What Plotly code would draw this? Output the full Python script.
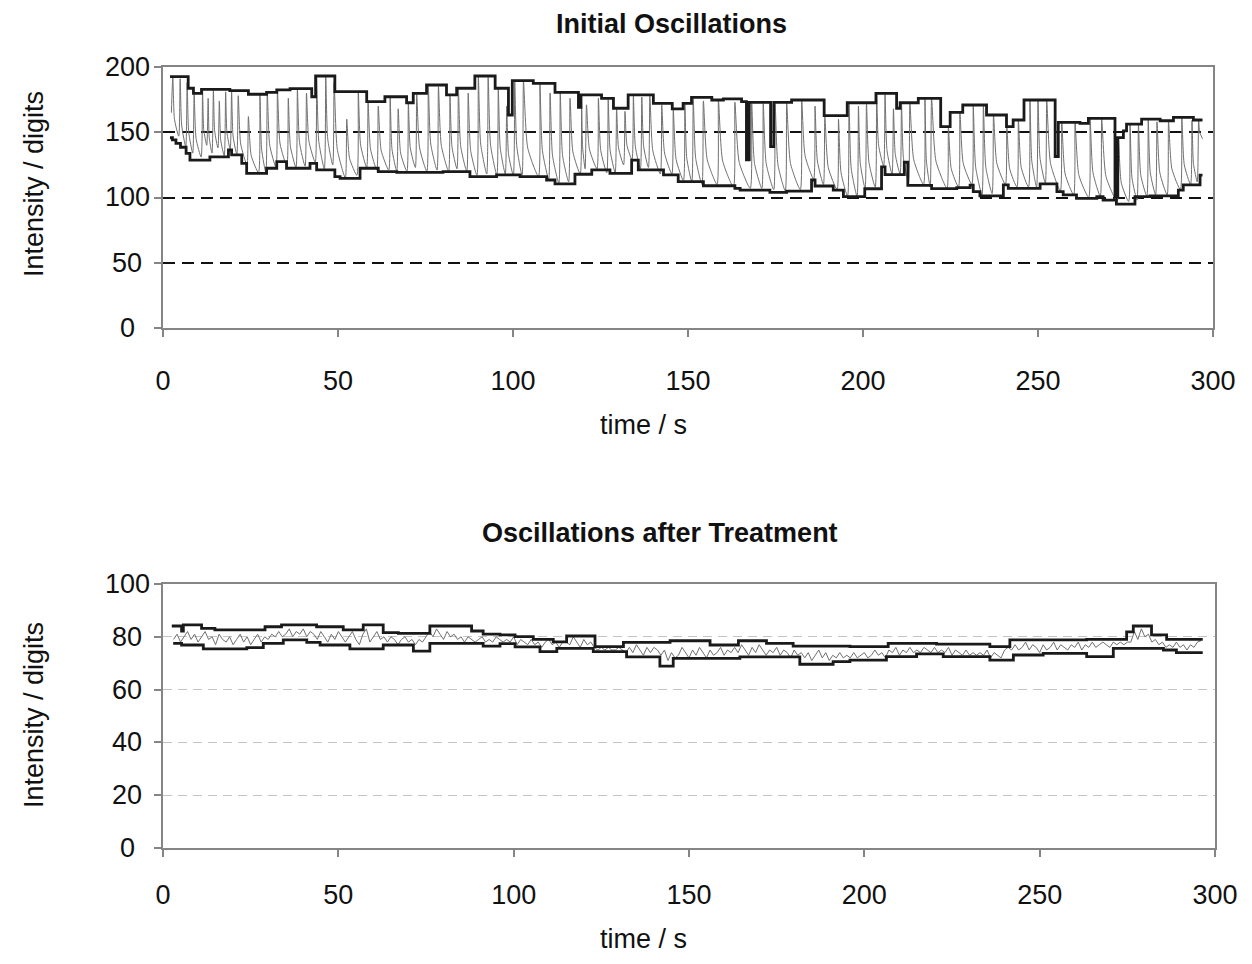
import plotly.graph_objects as go

# ---------------- Top chart: Initial Oscillations ----------------
# upper envelope (step start time, value)
top_upper_t = [2.0, 7.2, 8.7, 11.0, 19.1, 24.4, 29.6, 32.5, 36.3, 42.5, 43.6, 49.1, 58.2, 63.4, 69.6,
               71.5, 75.3, 81.0, 83.9, 89.1, 94.9, 98.7, 99.8, 105.8, 112.0, 112.8, 118.7, 119.4, 125.3,
               128.7, 132.9, 140.1, 145.5, 148.6, 151.0, 156.8, 160.1, 165.3, 166.7, 167.5, 173.6, 174.5,
               179.6, 188.9, 195.5, 203.7, 209.6, 210.6, 215.8, 222.2, 224.9, 228.5, 235.3, 241.0, 242.9,
               246.0, 254.9, 255.8, 262.0, 264.4, 272.0, 272.8, 274.4, 275.3, 279.6, 284.9, 288.7, 294.4, 297.0]
top_upper_v = [192.6, 183.7, 179.8, 182.9, 181.9, 179.1, 180.6, 182.4, 183.4, 177.2, 193.1, 181.1, 173.4, 177.2, 172.6,
               179.8, 186.2, 178.6, 183.7, 193.1, 183.7, 163.2, 189.5, 187.5, 180.6, 180.6, 169.0, 178.6, 176.0,
               168.4, 178.6, 172.2, 167.9, 172.2, 176.8, 174.7, 175.5, 173.4, 128.8, 172.9, 139.0, 172.9,
               174.7, 162.7, 172.6, 179.8, 168.4, 172.6, 176.0, 154.3, 165.2, 170.9, 163.2, 154.3, 159.4,
               174.7, 131.4, 157.6, 156.8, 160.7, 100.6, 145.9, 151.0, 156.2, 160.0, 158.8, 161.4, 159.4, 159.4]

# lower envelope (step start time, value)
top_lower_t = [2.0, 2.7, 3.7, 5.0, 6.6, 7.7, 13.4, 18.7, 19.6, 22.5, 23.9, 29.6, 32.5, 35.3, 42.0, 43.9,
               49.1, 50.6, 56.3, 61.5, 66.8, 80.0, 87.7, 95.3, 102.0, 109.6, 112.0, 117.7, 122.5, 127.7,
               133.9, 135.8, 143.0, 147.2, 154.4, 163.4, 164.9, 173.4, 178.2, 185.3, 186.3, 191.5, 194.4,
               200.5, 205.3, 206.3, 211.8, 212.8, 219.6, 226.8, 230.6, 231.5, 233.4, 240.1, 241.5, 250.6,
               255.4, 257.2, 261.0, 266.8, 268.6, 272.4, 277.7, 282.0, 290.1, 291.5, 296.3, 297.0]
top_lower_v = [145.8, 144.1, 141.5, 138.5, 133.8, 128.7, 131.2, 136.4, 132.6, 126.2, 118.5, 122.4, 127.5, 122.4, 126.2, 121.1,
               116.0, 114.7, 122.4, 119.8, 119.3, 119.8, 116.0, 117.3, 116.0, 113.4, 110.4, 117.8, 121.1, 118.5,
               128.7, 121.1, 117.3, 112.1, 109.0, 107.0, 105.7, 103.9, 104.9, 113.4, 108.8, 105.7, 100.6,
               106.7, 123.5, 117.5, 127.0, 109.3, 106.8, 107.5, 109.5, 104.5, 101.3, 109.7, 107.0, 110.5,
               104.5, 102.0, 99.4, 100.6, 98.0, 95.0, 100.6, 101.3, 105.7, 109.7, 117.2, 117.2]

# oscillating signal: peak times, peak values, value partway down the decay, trough reached after each peak
osc_start_t, osc_start_v = 2.4, 165.0
osc_end_t = 297.0
osc_peak_t = [2.8, 4.9, 6.9, 8.9, 11.3, 12.9, 14.4, 16.1, 17.9, 19.6, 21.5, 24.4, 27.7, 29.8, 32.7, 35.8, 38.4,
              41.0, 43.9, 46.5, 48.9, 52.5, 55.8, 58.6, 61.5, 64.9, 67.2, 70.1, 72.5, 75.8, 78.7, 82.0, 84.4,
              87.2, 90.1, 92.9, 95.8, 98.2, 100.5, 103.0, 107.7, 110.6, 113.5, 116.3, 119.6, 121.0, 124.4,
              127.2, 129.6, 132.0, 134.4, 136.8, 139.1, 142.5, 145.8, 149.1, 151.5, 154.4, 158.7, 163.4,
              168.2, 171.5, 174.9, 178.2, 182.5, 186.3, 189.1, 193.0, 196.0, 198.7, 201.0, 203.9, 206.3,
              208.7, 211.0, 213.4, 217.7, 219.6, 224.4, 227.7, 231.5, 234.4, 237.3, 241.1, 244.4, 247.7,
              250.0, 252.5, 256.8, 260.6, 264.9, 268.2, 273.0, 276.3, 278.7, 281.5, 284.0, 287.3, 291.1,
              294.0, 295.9]
osc_peak_v = [192, 191, 188, 179, 182, 176, 182, 174, 181, 181, 178, 162, 179, 180, 182, 176, 183,
              180, 193, 193, 188, 160, 181, 173, 170, 177, 168, 172, 179, 186, 185, 178, 183,
              180, 193, 192, 183, 170, 189, 189, 187, 180, 180, 176, 178, 171, 176,
              175, 168, 166, 178, 177, 178, 171, 167, 172, 176, 174, 174.5, 173,
              172, 172, 172, 172.5, 174, 170, 162, 160, 172, 170, 172, 179, 179,
              168, 172, 172, 176, 176, 154, 165, 170.5, 170, 163, 154, 159, 174.5,
              174, 174, 157, 157, 160, 160, 145, 156, 156, 159.5, 158, 158, 161,
              159, 159]
osc_knee_v = [160, 155, 150, 145, 152, 146, 151, 144, 150, 147, 141, 132, 137, 140, 141, 139, 142,
              143, 143, 145, 137, 130, 140, 137, 136, 137, 134, 138, 138, 141, 140, 139, 139,
              136, 141, 140, 138, 133, 139, 138, 136, 132, 132, 135, 139, 137, 136,
              136, 138, 140, 139, 139, 136, 134, 129, 130, 130, 129, 128, 127,
              126, 126, 125, 126, 132, 128, 123, 119, 122, 126, 127, 140, 136,
              133, 130, 129, 128, 128, 122, 126, 123, 123, 126, 122, 123, 128,
              130, 126, 118, 117, 119, 116, 111, 115, 117, 119, 119, 122, 125,
              126, 150]
osc_trough_v = [147, 139, 134, 131, 140, 134, 138, 132, 137, 133, 125, 119, 119, 123, 124, 123, 124,
                127, 122, 125, 115, 117, 123, 121, 121, 120, 120, 123, 120, 121, 120, 122, 120,
                117, 118, 117, 118, 117, 117, 116, 114, 111, 112, 118, 122, 122, 119,
                119, 125, 129, 122, 123, 118, 118, 113, 112, 110, 110, 108, 107,
                107, 106, 105, 106, 114, 110, 106, 101, 101, 107, 108, 124, 118,
                118, 112, 110, 108, 107, 108, 110, 102, 103, 110, 108, 108, 108,
                111, 105, 102, 100, 101, 97, 97, 98, 101, 102, 102, 106, 110,
                112, 145]
RISE = 0.4        # duration of the steep rise before each peak (s)
KNEE_FRAC = 0.28  # where in each decay the knee value sits

# ---------------- Bottom chart: Oscillations after Treatment ----------------
bot_upper_t = [2.5, 5.3, 5.8, 11.0, 14.8, 29.1, 33.8, 43.8, 51.4, 57.1, 62.8, 67.1, 76.1, 88.0, 91.3,
               96.1, 100.4, 105.6, 111.3, 115.1, 123.2, 131.3, 144.6, 156.0, 164.1, 172.1, 179.7, 195.9,
               206.8, 220.6, 235.8, 241.5, 263.4, 274.8, 276.7, 281.9, 286.2, 296.5]
bot_upper_v = [84.1, 82.2, 84.5, 83.2, 82.6, 83.8, 84.5, 83.8, 82.6, 84.5, 81.6, 81.3, 84.1, 82.2, 81.0,
               80.7, 80.1, 79.0, 78.1, 80.3, 76.3, 77.9, 78.5, 76.9, 78.5, 77.5, 76.5, 76.3,
               77.5, 77.2, 76.3, 78.8, 79.0, 81.9, 84.1, 80.7, 79.0, 79.0]
bot_lower_t = [2.9, 5.3, 11.5, 23.9, 28.6, 34.3, 41.0, 44.8, 53.3, 62.8, 71.4, 76.1, 91.3, 96.1, 100.4,
               107.5, 112.3, 122.7, 132.2, 141.7, 145.5, 164.5, 181.6, 191.1, 195.9, 206.3, 214.9, 222.5,
               235.8, 242.5, 251.0, 263.4, 271.0, 285.3, 289.0, 296.5]
bot_lower_v = [77.5, 76.9, 75.4, 75.9, 77.5, 78.8, 77.9, 76.9, 75.4, 76.9, 74.6, 77.5, 76.5, 77.4, 76.2,
               74.4, 75.6, 74.4, 72.4, 68.9, 71.8, 72.4, 69.6, 70.6, 71.2, 72.5, 73.5, 72.5,
               71.2, 73.1, 73.7, 72.5, 75.6, 75.0, 74.0, 74.0]
bot_signal_t0 = 3
bot_signal = [79, 81, 78, 80, 82, 79, 81, 78, 80, 82,
              79, 80, 77, 81, 79, 78, 80, 77, 79, 81,
              78, 80, 77, 79, 81, 78, 80, 79, 81, 80,
              82, 80, 81, 83, 80, 82, 81, 83, 80, 82,
              81, 79, 82, 80, 78, 81, 79, 82, 80, 78,
              80, 82, 79, 77, 81, 83, 78, 80, 82, 79,
              80, 78, 80, 79, 77, 79, 80, 78, 79, 77,
              79, 78, 80, 82, 80, 83, 81, 79, 82, 80,
              81, 79, 80, 78, 80, 79, 78, 79, 80, 78,
              79, 78, 80, 79, 78, 79, 78, 80, 77, 79,
              78, 77, 79, 77, 78, 76, 78, 79, 77, 78,
              76, 78, 78, 77, 80, 78, 76, 79, 77, 78,
              76, 75, 76, 75, 76, 75, 75, 76, 75, 74,
              76, 74, 77, 75, 73, 76, 74, 76, 75, 73,
              75, 71, 74, 72, 73, 76, 74, 72, 75, 73,
              76, 74, 72, 75, 73, 74, 76, 73, 75, 74,
              76, 74, 77, 75, 73, 76, 74, 77, 75, 73,
              75, 74, 76, 73, 75, 74, 72, 75, 73, 74,
              72, 74, 71, 73, 75, 72, 74, 71, 73, 72,
              74, 72, 73, 72, 74, 72, 73, 74, 72, 73,
              75, 73, 74, 72, 75, 74, 76, 73, 75, 74,
              76, 74, 75, 74, 76, 75, 74, 76, 74, 75,
              74, 76, 73, 75, 74, 73, 75, 73, 74, 73,
              74, 73, 75, 72, 74, 73, 72, 75, 76, 75,
              77, 75, 76, 78, 75, 77, 76, 74, 77, 75,
              76, 78, 75, 77, 76, 75, 77, 76, 78, 75,
              77, 76, 78, 76, 77, 78, 77, 76, 78, 77,
              78, 77, 78, 78, 82, 79, 83, 80, 81, 78,
              79, 77, 78, 76, 77, 76, 78, 76, 77, 75,
              77, 76, 78, 78.5]

x_ticks = [0, 50, 100, 150, 200, 250, 300]
top_y_ticks = [0, 50, 100, 150, 200]
bot_y_ticks = [0, 20, 40, 60, 80, 100]

# ---------------- build ----------------
osc_x = [osc_start_t]
osc_y = [osc_start_v]
n = len(osc_peak_t)
for i in range(n):
    t = osc_peak_t[i]
    nxt = osc_peak_t[i + 1] - RISE if i + 1 < n else osc_end_t
    osc_x += [t, t + KNEE_FRAC * (nxt - t), nxt]
    osc_y += [osc_peak_v[i], osc_knee_v[i], osc_trough_v[i]]

sig_t = [bot_signal_t0 + i for i in range(len(bot_signal))]

THIN = dict(color="#707070", width=1)
THICK = dict(color="#1a1a1a", width=2.8)
FONT = "Liberation Sans, Arial, sans-serif"

fig = go.Figure()
fig.add_trace(go.Scatter(x=osc_x, y=osc_y, mode="lines", line=dict(shape="spline", smoothing=0.6, **THIN), xaxis="x", yaxis="y"))
fig.add_trace(go.Scatter(x=top_upper_t, y=top_upper_v, mode="lines", line=dict(shape="hv", **THICK), xaxis="x", yaxis="y"))
fig.add_trace(go.Scatter(x=top_lower_t, y=top_lower_v, mode="lines", line=dict(shape="hv", **THICK), xaxis="x", yaxis="y"))
fig.add_trace(go.Scatter(x=sig_t, y=bot_signal, mode="lines", line=THIN, xaxis="x2", yaxis="y2"))
fig.add_trace(go.Scatter(x=bot_upper_t, y=bot_upper_v, mode="lines", line=dict(shape="hv", **THICK), xaxis="x2", yaxis="y2"))
fig.add_trace(go.Scatter(x=bot_lower_t, y=bot_lower_v, mode="lines", line=dict(shape="hv", **THICK), xaxis="x2", yaxis="y2"))

# the page adds an 8px body margin, so the figure is 16px smaller and all pixel targets shift by 8
OFF = 8
W, H = 1252 - 2 * OFF, 964 - 2 * OFF
px = lambda x: (x - OFF) / W
py = lambda y: 1 - (y - OFF) / H

AX_COLOR = "#858585"
tickfont = dict(family=FONT, size=27, color="#111111")

def xax(domain, anchor, standoff):
    return dict(domain=domain, anchor=anchor, range=[0, 300], tickvals=x_ticks, ticks="outside",
                ticklen=7, tickwidth=1.5, tickcolor=AX_COLOR, showline=True, linecolor=AX_COLOR,
                linewidth=2, mirror=True, showgrid=False, zeroline=False, tickfont=tickfont,
                ticklabelstandoff=standoff, automargin=False)

def yax(domain, anchor, rng, vals, gridcolor, griddash, gridwidth):
    return dict(domain=domain, anchor=anchor, range=rng, tickvals=vals, ticks="outside",
                ticklen=7, tickwidth=1.5, tickcolor=AX_COLOR, showline=True, linecolor=AX_COLOR,
                linewidth=2, mirror=True, showgrid=True, gridcolor=gridcolor, griddash=griddash,
                gridwidth=gridwidth, zeroline=False, showticklabels=False, automargin=False)

fig.update_layout(
    width=W, height=H, showlegend=False, autosize=False,
    paper_bgcolor="white", plot_bgcolor="white",
    margin=dict(l=0, r=0, t=0, b=0, pad=0),
    xaxis=xax([px(163), px(1213)], "y", 21),
    yaxis=yax([py(328), py(67)], "x", [0, 200], top_y_ticks, "#111111", "12px,7px", 2),
    xaxis2=xax([px(163), px(1215)], "y2", 15),
    yaxis2=yax([py(848), py(584)], "x2", [0, 100], bot_y_ticks, "#c4c4c4", "9px,6px", 1),
)

# y tick labels are centred in a column left of the axis
for yref, vals in (("y", top_y_ticks), ("y2", bot_y_ticks)):
    for v in vals:
        fig.add_annotation(text=str(v), x=px(127), y=v, xref="paper", yref=yref, showarrow=False,
                           font=tickfont, xanchor="center", yanchor="middle")

def ann(text, x, y, size=27, bold=False, angle=0):
    fig.add_annotation(text=f"<b>{text}</b>" if bold else text, x=px(x), y=py(y),
                       xref="paper", yref="paper", showarrow=False, textangle=angle,
                       font=dict(family=FONT, size=size, color="#111111"),
                       xanchor="center", yanchor="middle")

ann("Initial Oscillations", 672, 24, size=27, bold=True)
ann("Oscillations after Treatment", 660, 533, size=27, bold=True)
ann("time / s", 643, 425)
ann("time / s", 643, 939)
ann("Intensity / digits", 34, 184, angle=-90)
ann("Intensity / digits", 34, 715, angle=-90)

fig.write_html("out.html")
